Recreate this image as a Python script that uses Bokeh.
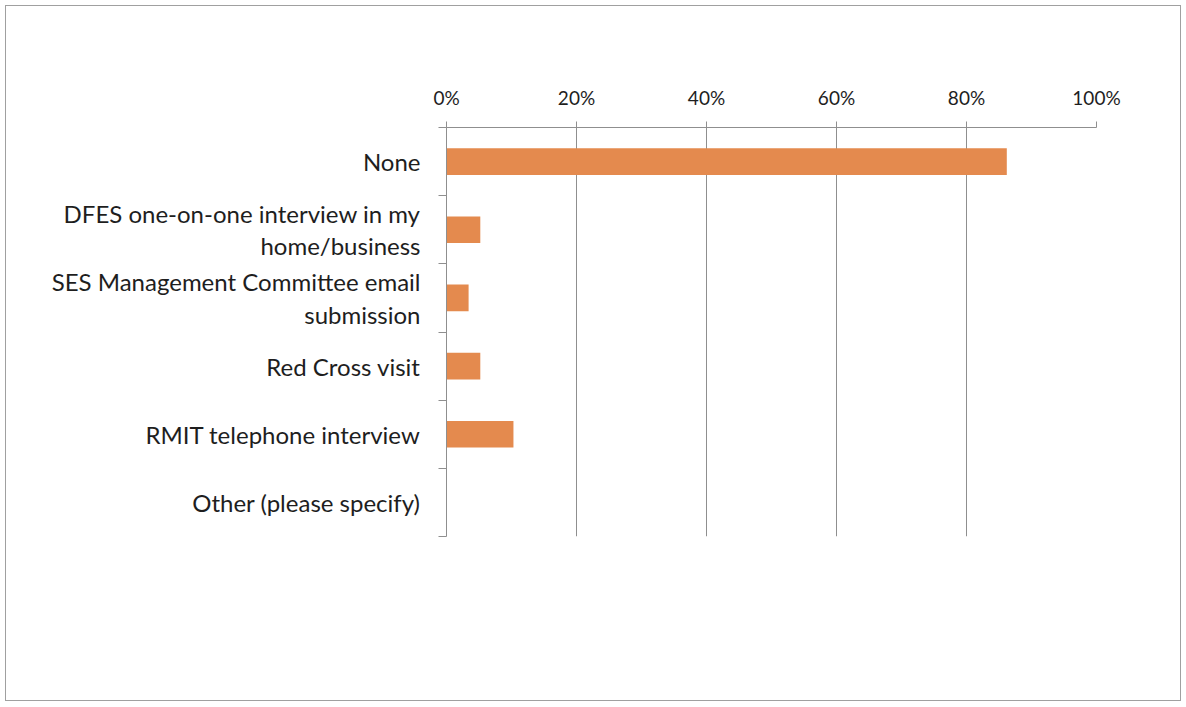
from bokeh.plotting import figure
from bokeh.models import Range1d, FixedTicker, PrintfTickFormatter, ColumnDataSource
from bokeh.embed import file_html
from bokeh.resources import INLINE

# ---- data ----
categories = [
    "None",
    "DFES one-on-one interview in my\nhome/business",
    "SES Management Committee email\nsubmission",
    "Red Cross visit",
    "RMIT telephone interview",
    "Other (please specify)",
]
values = [86.2, 5.2, 3.4, 5.2, 10.3, 0.0]
x_ticks = [0, 20, 40, 60, 80, 100]

BAR_COLOR = "#E48A4E"
GRID_COLOR = "#8f8f8f"
TEXT_COLOR = "#1e1e1e"
FONT = "Lato"

n = len(categories)
centers = [n - i - 0.5 for i in range(n)]
bounds = list(range(n + 1))

src = ColumnDataSource(dict(y=centers, v=values, cat=categories))

p = figure(
    width=1176, height=696,
    x_range=Range1d(0, 100), y_range=Range1d(0, n),
    x_axis_location="above",
    output_backend="svg", toolbar_location=None,
    min_border_left=440, min_border_right=86,
    min_border_top=121, min_border_bottom=166,
)
p.styles = {"border": "1px solid #a0a0a0", "margin": "5px"}
p.outline_line_color = None
p.background_fill_color = "white"
p.border_fill_color = "white"

p.hbar(y="y", right="v", left=0, height=0.39, source=src,
       fill_color=BAR_COLOR, line_color=None)

# x axis (top)
xa = p.xaxis[0]
xa.ticker = FixedTicker(ticks=x_ticks)
xa.formatter = PrintfTickFormatter(format="%d%%")
xa.axis_line_color = GRID_COLOR
xa.major_tick_line_color = GRID_COLOR
xa.major_tick_out = 6
xa.major_tick_in = 0
xa.minor_tick_line_color = None
xa.major_label_text_font = FONT
xa.major_label_text_font_size = "19px"
xa.major_label_text_color = TEXT_COLOR
xa.major_label_standoff = 13

p.xgrid.ticker = FixedTicker(ticks=x_ticks)
p.xgrid.grid_line_color = GRID_COLOR
p.ygrid.grid_line_color = None

# y axis (left)
ya = p.yaxis[0]
ya.ticker = FixedTicker(ticks=centers, minor_ticks=bounds)
ya.major_label_overrides = {c: cat for c, cat in zip(centers, categories)}
ya.axis_line_color = GRID_COLOR
ya.major_tick_line_color = None
ya.major_tick_out = 0
ya.major_tick_in = 0
ya.minor_tick_line_color = GRID_COLOR
ya.minor_tick_out = 8
ya.minor_tick_in = 0
ya.major_label_text_font = FONT
ya.major_label_text_font_size = "24px"
ya.major_label_text_line_height = 1.12
ya.major_label_text_color = TEXT_COLOR
ya.major_label_standoff = 18

open("out.html", "w").write(file_html(p, INLINE))
